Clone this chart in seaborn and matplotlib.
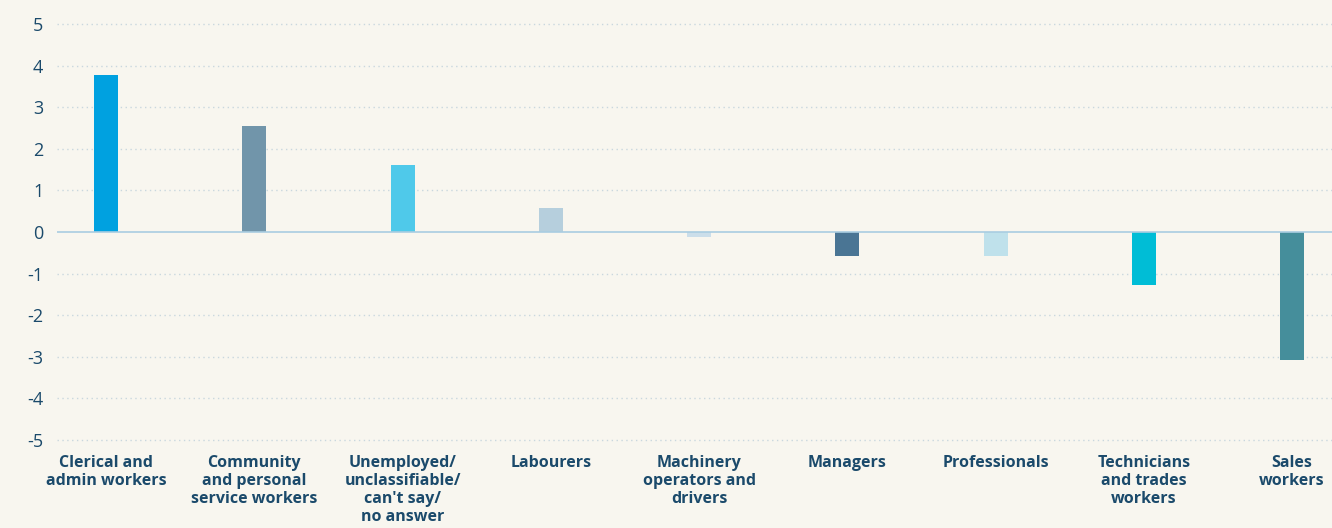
import matplotlib
matplotlib.use("Agg")
import matplotlib.pyplot as plt
import seaborn as sns
import pandas as pd

# Change by occupation group
categories = [
    "Clerical and\nadmin workers",
    "Community\nand personal\nservice workers",
    "Unemployed/\nunclassifiable/\ncan't say/\nno answer",
    "Labourers",
    "Machinery\noperators and\ndrivers",
    "Managers",
    "Professionals",
    "Technicians\nand trades\nworkers",
    "Sales\nworkers",
]
values = [3.78, 2.55, 1.61, 0.58, -0.11, -0.57, -0.57, -1.27, -3.07]
bar_colors = ["#00a1e0", "#7195aa", "#4fc9ea", "#b6cfdd", "#cbdeea",
              "#4a7594", "#bfe1eb", "#00bdd6", "#458e9b"]
y_ticks = [5, 4, 3, 2, 1, 0, -1, -2, -3, -4, -5]

bg = "#f8f6ef"
text_col = "#1b4a6b"

df = pd.DataFrame({"category": categories, "value": values})

sns.set_theme(style="white")
plt.rcParams["font.family"] = ["Open Sans", "DejaVu Sans"]

fig = plt.figure(figsize=(13.32, 5.28), dpi=100, facecolor=bg)
ax = fig.add_axes([0.043, 0.143, 0.957, 0.851])
ax.set_facecolor(bg)

sns.barplot(data=df, x="category", y="value", hue="category",
            palette=bar_colors, width=0.162, legend=False, saturation=1,
            linewidth=0, ax=ax)

# dotted grid lines, solid zero line
for t in y_ticks:
    if t == 0:
        continue
    ax.axhline(t, color="#c9d7de", linestyle=(0, (1, 2.5)), linewidth=1,
               zorder=0)
ax.axhline(0, color="#a9cde1", linewidth=1.2, zorder=3)

ax.set_xlim(-0.33, 8.27)
ax.set_ylim(-5.3, 5.5)
ax.set_yticks(y_ticks)
ax.set_yticklabels([str(t) for t in y_ticks], fontsize=13)
ax.tick_params(axis="y", length=0, pad=10, labelcolor=text_col)
ax.tick_params(axis="x", length=0, pad=2, labelcolor=text_col)
ax.set_xticks(range(len(categories)))
ax.set_xticklabels(categories, fontsize=11.5, fontweight="bold",
                   linespacing=1.15, va="top")
ax.set_xlabel("")
ax.set_ylabel("")
for s in ax.spines.values():
    s.set_visible(False)

fig.savefig("out.png", dpi=100, facecolor=bg)
